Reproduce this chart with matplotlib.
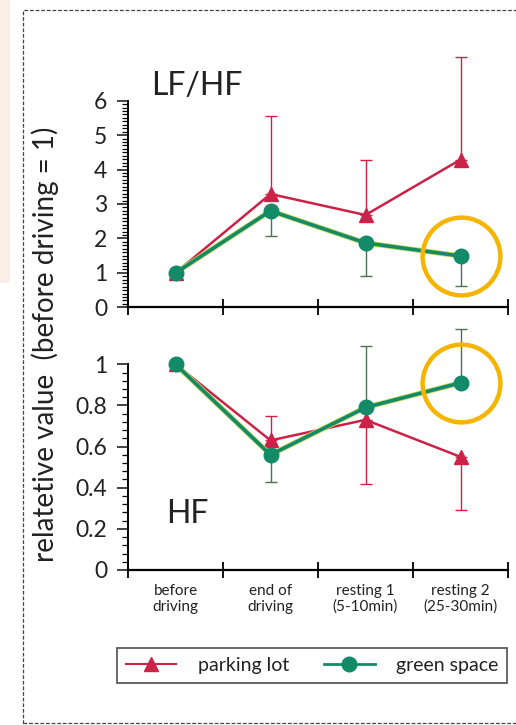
import numpy as np
import matplotlib.pyplot as plt
from matplotlib.patches import Rectangle
from matplotlib.lines import Line2D
from matplotlib.ticker import MultipleLocator, FormatStrFormatter

# ---------------------------
# data
# ---------------------------
phases = ["before\ndriving", "end of\ndriving", "resting 1\n(5-10min)", "resting 2\n(25-30min)"]

# LF/HF
lfhf_parking = [1.0, 3.29, 2.68, 4.29]
lfhf_parking_lo = [0, 0, 0, 0]
lfhf_parking_hi = [0, 2.28, 1.61, 2.97]
lfhf_green = [1.0, 2.80, 1.87, 1.49]
lfhf_green_lo = [0, 0.73, 0.97, 0.88]
lfhf_green_hi = [0, 0, 0, 0]

# HF
hf_parking = [1.0, 0.63, 0.73, 0.55]
hf_parking_lo = [0, 0, 0.31, 0.26]
hf_parking_hi = [0, 0.12, 0, 0]
hf_green = [1.0, 0.56, 0.79, 0.91]
hf_green_lo = [0, 0.13, 0, 0]
hf_green_hi = [0, 0, 0.30, 0.26]

RED = "#cc2248"
GREEN = "#138a68"
ORANGE = "#f5b400"
INK = "#222222"

plt.rcParams['font.family'] = ['Lato', 'DejaVu Sans']

W, H = 516, 725
fig = plt.figure(figsize=(W / 100, H / 100), dpi=100)
fig.patch.set_facecolor("white")

# scan leftovers: pink strip and dashed frame
fig.add_artist(Rectangle((0, 1 - 283 / H), 10 / W, 283 / H, transform=fig.transFigure,
                         facecolor="#fdeee5", edgecolor="none"))
fig.add_artist(Rectangle((23 / W, 1 - 723 / H), 520 / W, 713 / H, transform=fig.transFigure,
                         facecolor="none", edgecolor="#444444", lw=0.9, ls=(0, (3, 1.5))))

ax1 = fig.add_axes([128 / W, 1 - 307.3 / H, 380 / W, 206.6 / H])
ax2 = fig.add_axes([128 / W, 1 - 570 / H, 380 / W, 205.7 / H])

xs = np.arange(len(phases)) + 0.5


def draw_panel(ax, park, park_err, green, green_err):
    # yellowish fringe under the green line (scan look)
    ax.plot(xs, green, color="#c9d65a", lw=3.8, zorder=3.5, clip_on=False)
    ax.errorbar(xs, park, yerr=park_err, color=RED, lw=1.8, marker="^", ms=10,
                ecolor=RED, elinewidth=1.0, capsize=4, capthick=1.0, clip_on=False,
                zorder=3)
    ax.errorbar(xs, green, yerr=green_err, color=GREEN, lw=2.6, marker="o", ms=10.5,
                ecolor="#4f6f55", elinewidth=1.0, capsize=4, capthick=1.0, clip_on=False,
                zorder=4)
    # orange highlight ring on the last green point
    ax.plot([xs[-1]], [green[-1]], marker="o", ms=56, mfc="none", mec=ORANGE, mew=3.2,
            clip_on=False, zorder=6)

    ax.set_xlim(0, 4)
    ax.spines[["top", "right"]].set_visible(False)
    ax.spines["left"].set_linewidth(1.4)
    ax.spines["bottom"].set_linewidth(1.6)
    ax.set_xticks([0, 1, 2, 3, 4])
    ax.set_xticklabels([])
    ax.tick_params(axis="x", which="major", direction="inout", length=12, width=1.3)
    ax.tick_params(axis="y", which="major", direction="out", length=8, width=1.2,
                   labelsize=16.5, pad=7, colors=INK)
    ax.tick_params(axis="y", which="minor", direction="out", length=4, width=0.9)


draw_panel(ax1, lfhf_parking, [lfhf_parking_lo, lfhf_parking_hi],
           lfhf_green, [lfhf_green_lo, lfhf_green_hi])
ax1.set_ylim(0, 6)
ax1.yaxis.set_major_locator(MultipleLocator(1))
ax1.yaxis.set_minor_locator(MultipleLocator(0.1))
ax1.text(0.06, 1.0, "LF/HF", transform=ax1.transAxes, fontsize=23, color=INK,
         va="bottom", ha="left")

draw_panel(ax2, hf_parking, [hf_parking_lo, hf_parking_hi],
           hf_green, [hf_green_lo, hf_green_hi])
ax2.set_ylim(0, 1)
ax2.yaxis.set_major_locator(MultipleLocator(0.2))
ax2.yaxis.set_minor_locator(MultipleLocator(0.04))
ax2.yaxis.set_major_formatter(FormatStrFormatter("%g"))
ax2.text(0.1, 0.2, "HF", transform=ax2.transAxes, fontsize=23, color=INK,
         va="bottom", ha="left")

ax2.set_xticks(xs, minor=True)
ax2.set_xticklabels(phases, minor=True, fontsize=11, linespacing=1.15, color=INK)
ax2.tick_params(axis="x", which="minor", length=0, pad=10)

fig.text(45 / W, 1 - 344 / H, "relatetive value  (before driving = 1)", rotation=90,
         ha="center", va="center", fontsize=20, color=INK)

handles = [
    Line2D([], [], color=RED, lw=1.5, marker="^", ms=10),
    Line2D([], [], color=GREEN, lw=2.0, marker="o", ms=10.5),
]
leg = fig.legend(handles, ["parking lot", "green space"], loc="upper left",
                 bbox_to_anchor=(117 / W, 1 - 648 / H), borderaxespad=0, ncol=2,
                 fontsize=14, frameon=True, fancybox=False, edgecolor=INK,
                 borderpad=0.45, handlelength=2.6, columnspacing=1.8, handletextpad=1.1)
leg.get_frame().set_linewidth(1.2)
for t in leg.get_texts():
    t.set_color(INK)

fig.savefig("out.png", dpi=100)
